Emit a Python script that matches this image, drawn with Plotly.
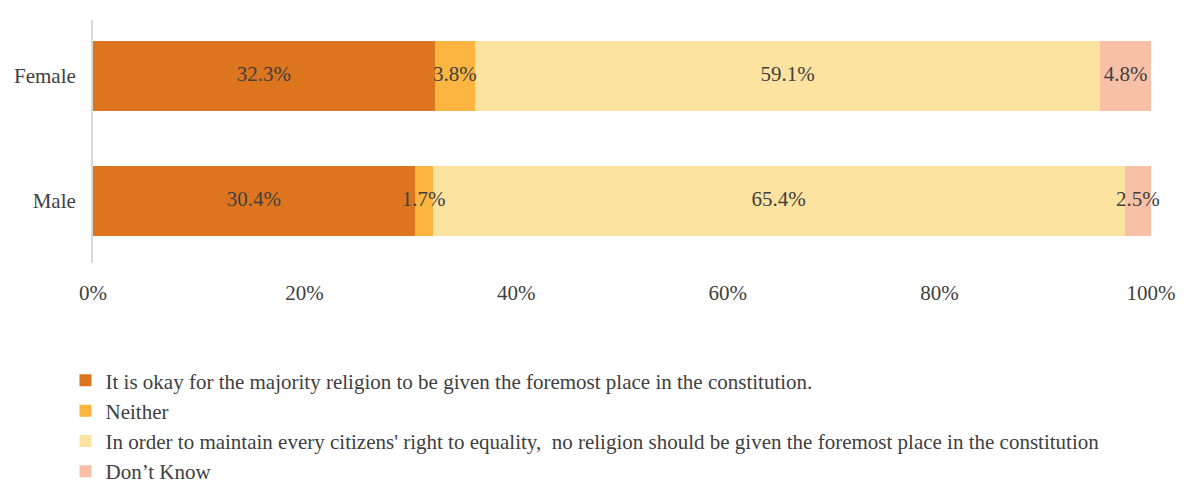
import plotly.graph_objects as go

categories = ["Male", "Female"]
series_names = [
    "It is okay for the majority religion to be given the foremost place in the constitution.",
    "Neither",
    "In order to maintain every citizens' right to equality,  no religion should be given the foremost place in the constitution",
    "Don\u2019t Know",
]
okay_vals = [30.4, 32.3]
neither_vals = [1.7, 3.8]
equality_vals = [65.4, 59.1]
dontknow_vals = [2.5, 4.8]
series_values = [okay_vals, neither_vals, equality_vals, dontknow_vals]
colors = ["#DD751E", "#FBB540", "#FCE3A0", "#F9C0A8"]
x_tick_vals = [0, 0.2, 0.4, 0.6, 0.8, 1.0]
x_tick_text = ["0%", "20%", "40%", "60%", "80%", "100%"]

FONT = "Liberation Serif, Times New Roman, serif"
FS = 21
TXT = "#404040"

fig = go.Figure()
for name, vals, col in zip(series_names, series_values, colors):
    fig.add_trace(go.Bar(
        y=categories,
        x=[v / 100 for v in vals],
        name=name,
        orientation="h",
        marker=dict(color=col, line=dict(width=0)),
        width=0.56,
        hoverinfo="skip",
    ))

# data labels drawn on top of all bars, centred in each segment
cum = [0.0] * len(categories)
lab_x, lab_y, lab_t = [], [], []
for vals in series_values:
    for i, v in enumerate(vals):
        lab_x.append((cum[i] + v / 2) / 100)
        lab_y.append(categories[i])
        lab_t.append(f"{v:.1f}%")
        cum[i] += v
fig.add_trace(go.Scatter(
    x=lab_x, y=lab_y, text=lab_t, mode="text",
    textposition="middle center",
    textfont=dict(family=FONT, size=FS, color=TXT),
    cliponaxis=False,
    showlegend=False, hoverinfo="skip",
))

fig.update_layout(
    barmode="stack",
    width=1176,
    height=475,
    margin=dict(l=85, r=33, t=12, b=220, autoexpand=False),
    paper_bgcolor="white",
    plot_bgcolor="white",
    font=dict(family=FONT, size=FS, color=TXT),
    showlegend=True,
    legend=dict(
        orientation="v",
        x=-0.026, xanchor="left",
        y=-0.40, yanchor="top",
        traceorder="normal",
        font=dict(family=FONT, size=21, color=TXT),
        tracegroupgap=0,
        itemwidth=30,
        bgcolor="rgba(0,0,0,0)",
    ),
    xaxis=dict(
        range=[0, 1],
        tickvals=x_tick_vals,
        ticktext=x_tick_text,
        showgrid=False,
        zeroline=False,
        showline=False,
        ticks="",
        automargin=False,
        ticklabelstandoff=15,
        tickfont=dict(family=FONT, size=FS, color=TXT),
    ),
    yaxis=dict(
        type="category",
        categoryorder="array",
        categoryarray=categories,
        range=[-0.496, 1.448],
        showgrid=False,
        zeroline=False,
        showline=True,
        linecolor="#D9D9D9",
        linewidth=2,
        ticks="",
        automargin=False,
        ticklabelstandoff=11,
        tickfont=dict(family=FONT, size=FS, color=TXT),
    ),
)

fig.write_html("out.html")
